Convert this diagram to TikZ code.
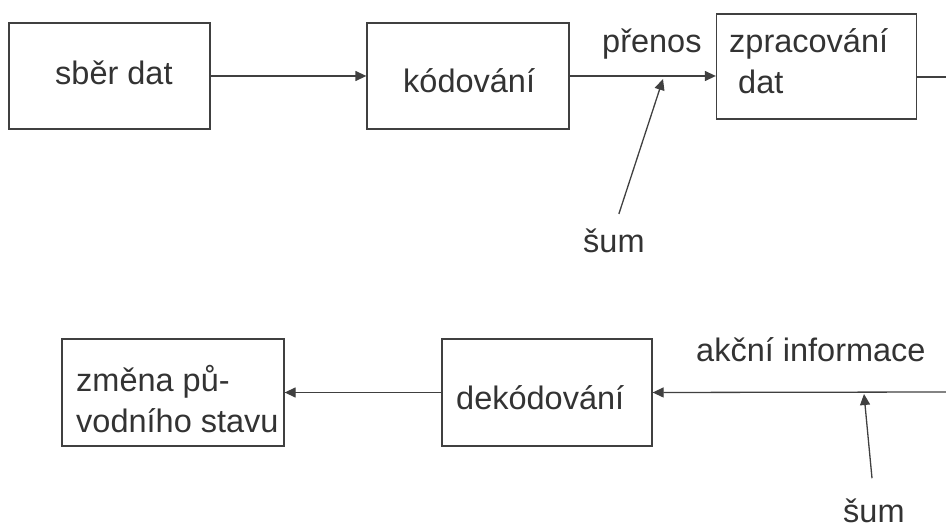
\documentclass[tikz,border=0pt]{standalone}
\usepackage{fontspec}
\setmainfont{Liberation Sans}
\usetikzlibrary{arrows.meta}
\definecolor{ink}{RGB}{64,64,64}
\definecolor{txt}{RGB}{51,51,51}
\begin{document}
\begin{tikzpicture}[x=1pt,y=-1pt,
  blok/.style={draw=ink, line width=1.3pt, inner sep=0pt, minimum width=#1, minimum height=106pt},
  popis/.style={text=txt, inner sep=0pt, align=left, font=\fontsize{32.5}{41}\selectfont},
  sipka/.style={draw=ink, line width=1.3pt, -{Triangle[length=11pt,width=10pt]}},
  cara/.style={draw=ink, line width=1.3pt}]
\useasboundingbox (0,0) rectangle (946,529);
% horni rada
\node[blok=201pt] (sber) at (109.5,76){};
\node[blok=202pt] (kod) at (468,76){};
\node[blok=200pt, minimum height=105pt] (zprac) at (816.5,66.5){};
\node[popis, anchor=base west] (tsber) at (55,85){sběr dat};
\node[popis, anchor=base west] (tkod) at (403,93){kódování};
\node[popis, anchor=north west] (tzprac) at (729,28){zpracování\\\ dat};
\node[popis, anchor=base west] (tprenos) at (602,53){přenos};
\node[popis, anchor=base west] (sum1) at (583,253){šum};
\coordinate (vyst) at (946,77);
\coordinate (rusA) at (663,79);
\draw[sipka](sber.east) -- (kod.west);
\draw[sipka](kod.east) -- (kod.east -| zprac.west);
\draw[cara](zprac.east |- vyst) -- (vyst);
\draw[sipka, shorten <=16pt](sum1.north) -- (rusA);
% dolni rada
\node[blok=222pt, minimum height=107pt] (zmena) at (173,392.5){};
\node[blok=210pt, minimum height=107pt] (dekod) at (547,392.5){};
\node[popis, anchor=north west] (tzmena) at (76,365){změna pů-\\vodního stavu};
\node[popis, anchor=base west] (tdekod) at (456,410){dekódování};
\node[popis, anchor=base west] (takce) at (696,362){akční informace};
\node[popis, anchor=base west] (sum2) at (843,522){šum};
\coordinate (vstup) at (946,392);
\coordinate (rusB) at (864,394);
\draw[sipka](vstup) -- (dekod.east);
\draw[sipka](dekod.west) -- (zmena.east);
\draw[sipka, shorten <=20pt](sum2.north) -- (rusB);
\end{tikzpicture}
\end{document}
